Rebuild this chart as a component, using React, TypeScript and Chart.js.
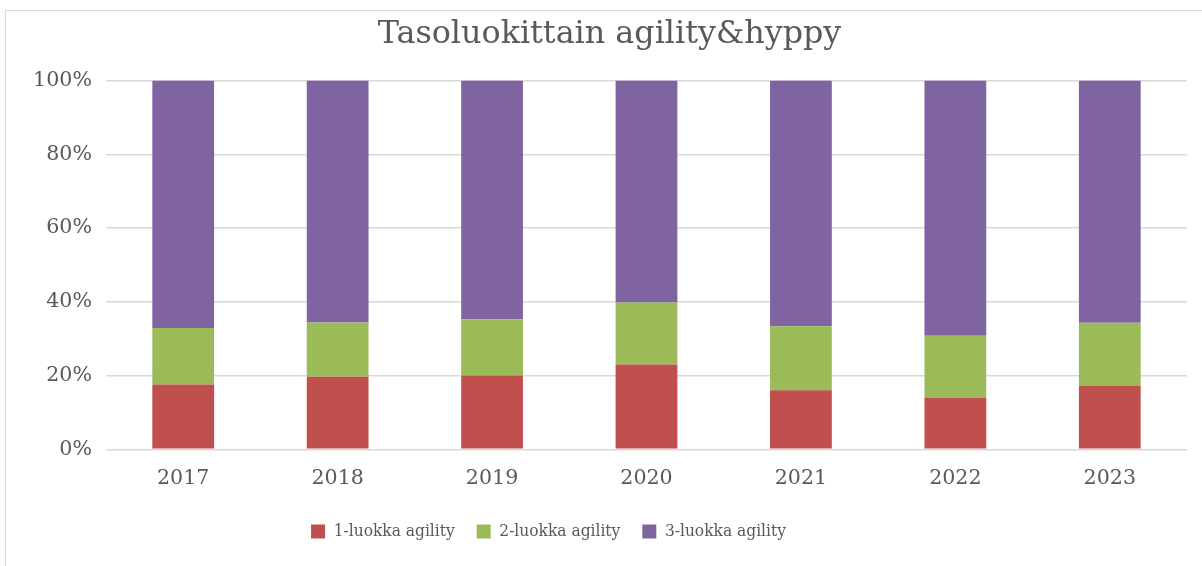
import React, { useEffect, useRef } from "react";
import { Chart, registerables } from "chart.js";

Chart.register(...registerables);

const titleText = "Tasoluokittain agility&hyppy";
const categories = ["2017", "2018", "2019", "2020", "2021", "2022", "2023"];
const seriesNames = ["1-luokka agility", "2-luokka agility", "3-luokka agility"];
const luokka1 = [17.6, 19.7, 20.0, 23.0, 16.0, 13.9, 17.3];
const luokka2 = [15.3, 14.7, 15.3, 16.8, 17.4, 16.9, 17.0];
const luokka3 = [67.1, 65.6, 64.7, 60.2, 66.6, 69.2, 65.7];
const yTickValues = [0, 20, 40, 60, 80, 100];

const colors = ["#C0504D", "#9BBB59", "#8064A2"];
const textColor = "#595959";
const fontFamily = "'DejaVu Serif', serif";
const legendFamily = "'DejaVu Serif Condensed', 'Liberation Serif', serif";

const legendShift = {
  id: "legendShift",
  afterLayout(chart: any) {
    const lg = chart.legend;
    if (!lg) return;
    const dx = -61;
    lg.left += dx;
    lg.right += dx;
  },
};

export default function App() {
  const canvasRef = useRef<HTMLCanvasElement | null>(null);

  useEffect(() => {
    if (!canvasRef.current) return;
    const chart = new Chart(canvasRef.current, {
      type: "bar",
      data: {
        labels: categories,
        datasets: [luokka1, luokka2, luokka3].map((d, i) => ({
          label: seriesNames[i],
          data: d,
          backgroundColor: colors[i],
          borderWidth: 0,
          barPercentage: 0.4,
          categoryPercentage: 1.0,
        })),
      },
      plugins: [legendShift],
      options: {
        animation: false,
        responsive: false,
        maintainAspectRatio: false,
        layout: { padding: { left: 32, right: 15, top: 0, bottom: 16 } },
        plugins: {
          title: {
            display: true,
            text: titleText,
            color: textColor,
            font: { family: fontFamily, size: 31.8, weight: "normal" },
            padding: { top: 16, bottom: 26.4 },
          },
          legend: {
            position: "bottom",
            labels: {
              color: textColor,
              font: { family: legendFamily, size: 17.2 },
              boxWidth: 14,
              boxHeight: 14,
              padding: 22,
            },
          },
          tooltip: { enabled: false },
        },
        scales: {
          x: {
            stacked: true,
            grid: { display: false, drawTicks: false },
            border: { display: false },
            ticks: {
              color: textColor,
              font: { family: fontFamily, size: 20.6 },
              padding: 17,
            },
            afterFit: (scale: any) => {
              scale.height = 51.5;
            },
          },
          y: {
            stacked: true,
            min: 0,
            max: 100,
            grid: { color: "#d9d9d9", lineWidth: 1.5, drawTicks: false },
            border: { display: false },
            afterBuildTicks: (scale: any) => {
              scale.ticks = yTickValues.map((v) => ({ value: v }));
            },
            ticks: {
              color: textColor,
              font: { family: fontFamily, size: 20.6 },
              padding: 14,
              callback: (v: any) => v + "%",
            },
            afterFit: (scale: any) => {
              scale.width = 74;
            },
          },
        },
      },
    });
    return () => chart.destroy();
  }, []);

  return (
    <div
      style={{
        position: "fixed",
        left: 0,
        top: 0,
        width: 1202,
        height: 566,
        overflow: "hidden",
        background: "#ffffff",
      }}
    >
      <div
        style={{
          position: "absolute",
          left: 5,
          top: 10,
          width: 1220,
          height: 580,
          border: "1px solid #d9d9d9",
        }}
      />
      <canvas
        ref={canvasRef}
        width={1202}
        height={566}
        style={{ position: "absolute", left: 0, top: 0, width: 1202, height: 566 }}
      />
    </div>
  );
}
